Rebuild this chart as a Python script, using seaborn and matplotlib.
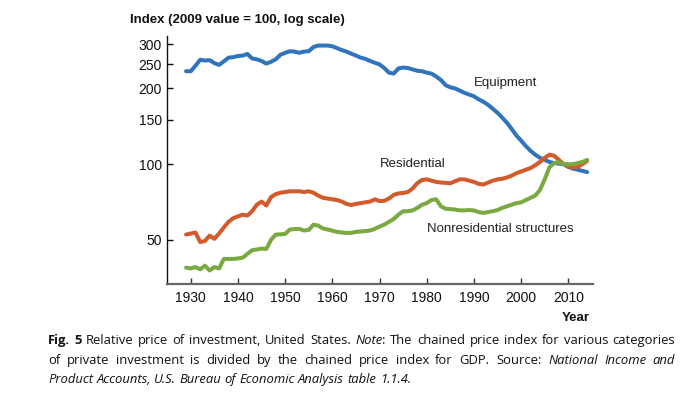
import math
import numpy as np
import pandas as pd
import seaborn as sns
import matplotlib.pyplot as plt
from matplotlib.font_manager import FontProperties, fontManager, get_font
from matplotlib.backends.backend_agg import get_hinting_flag
from matplotlib.ticker import NullLocator, FixedLocator

# values (2009 = 100)
years = list(range(1929, 2015))

equipment = [
    234, 234, 246, 260, 258, 259, 252, 248, 256, 265, 266,            # 1929-1939
    269, 270, 274, 263, 261, 257, 251, 255, 261, 272,                 # 1940s
    277, 281, 280, 277, 280, 281, 292, 296, 296, 296,                 # 1950s
    294, 289, 284, 280, 275, 270, 265, 262, 257, 253,                 # 1960s
    249, 241, 231, 229, 240, 242, 241, 238, 235, 234,                 # 1970s
    231, 229, 223, 216, 206, 202, 200, 196, 192, 189,                 # 1980s
    186, 181, 177, 172, 166, 160, 153, 146, 138, 130,                 # 1990s
    124, 118, 113, 109, 106, 104, 102, 101, 100.5, 100,               # 2000s
    97.5, 96, 95, 94, 93,                                             # 2010-2014
]
residential = [
    52.5, 53, 53.5, 49, 49.5, 52, 50.5, 53, 56, 59, 61,
    62, 63, 62.5, 65, 69, 71, 68.5, 74, 76, 77,
    77.5, 78, 78, 78, 77.5, 78, 77, 75, 73.5, 73,
    72.5, 72, 71, 69.5, 68.8, 69.5, 70, 70.5, 71, 72.5,
    71.3, 71.5, 73, 75.5, 76.5, 76.8, 77.5, 80, 84, 86.5,
    87, 86, 85, 84.5, 84.3, 84, 85.5, 87, 87, 86,
    85, 83.5, 83, 84.5, 86, 87, 87.5, 88.5, 90, 92,
    93.5, 95, 96.5, 99, 102, 106, 109, 108, 104, 100,
    98, 97, 97.5, 100, 103,
]
nonresidential = [
    38.8, 38.5, 39, 38.2, 39.5, 37.8, 39, 38.5, 42, 42, 42,
    42.2, 42.5, 44, 45.5, 45.8, 46.2, 46, 50, 52.5, 52.6,
    52.8, 55, 55.2, 55.3, 54.5, 54.8, 57.5, 57, 55.5, 55,
    54.4, 53.8, 53.5, 53.3, 53.3, 53.8, 54, 54.2, 54.5, 55.3,
    56.5, 57.5, 59, 60.5, 63, 65, 65, 65.5, 67, 69,
    70, 72, 72.5, 68, 66.5, 66.3, 66, 65.5, 65.5, 65.7,
    65.5, 64.5, 64, 64.5, 65, 65.7, 67, 68, 69, 70,
    70.5, 72, 73.5, 75, 79, 87, 97, 101, 102, 100,
    100, 100, 101, 102, 104,
]

series_names = ['Equipment', 'Residential', 'Nonresidential structures']
colors = ['#3174BE', '#D35A2B', '#7AA942']
ytick_values = [50, 100, 150, 200, 250, 300]
xtick_values = list(range(1930, 2011, 10))

df = pd.DataFrame({
    'year': years * 3,
    'value': equipment + residential + nonresidential,
    'series': np.repeat(series_names, len(years)),
})

sns.set_style('white')
plt.rcParams['font.family'] = ['Liberation Sans', 'DejaVu Sans']

W, H = 693, 397
fig = plt.figure(figsize=(W / 100, H / 100), dpi=100)
ax = fig.add_axes([166.7 / W, 1 - 284 / H, (593.3 - 166.7) / W, (284 - 36) / H])

sns.lineplot(data=df, x='year', y='value', hue='series', palette=colors,
             linewidth=2.9, legend=False, ax=ax)
ax.set_yscale('log')
ax.set_xlim(1924.9, 2015.3)
ax.set_ylim(33.4, 323)
ax.yaxis.set_major_locator(FixedLocator(ytick_values))
ax.yaxis.set_minor_locator(NullLocator())
ax.set_yticklabels([str(v) for v in ytick_values])
ax.set_xticks(xtick_values)
ax.set_xticklabels([str(v) for v in xtick_values])
ax.set_xlabel('')
ax.set_ylabel('')

for s in ['top', 'right']:
    ax.spines[s].set_visible(False)
ax.spines['left'].set_color('#111111')
ax.spines['left'].set_linewidth(1.0)
ax.spines['bottom'].set_color('#666666')
ax.spines['bottom'].set_linewidth(1.6)
ax.tick_params(axis='y', which='major', left=True, direction='in', length=4, width=1,
               color='#111111', pad=3.5, labelsize=10, labelcolor='#111111')
ax.tick_params(axis='x', which='major', bottom=True, direction='in', length=4, width=1,
               color='#333333', pad=5, labelsize=10, labelcolor='#111111')

# series labels
ax.text(1990, 210, 'Equipment', fontsize=9.5, va='center', ha='left', color='#222222')
ax.text(1970, 100, 'Residential', fontsize=9.5, va='center', ha='left', color='#222222')
ax.text(1980, 55.2, 'Nonresidential structures', fontsize=9.5, va='center',
        ha='left', color='#222222')

fig.text(130 / W, 1 - 20 / H, 'Index (2009 value = 100, log scale)', fontsize=9.5,
         fontweight='bold', va='center', ha='left', color='#111111')
fig.text(590 / W, 1 - 318 / H, 'Year', fontsize=9.5, fontweight='bold',
         va='center', ha='right', color='#111111')

# caption, justified word by word
cap_font = ['Open Sans', 'Liberation Sans', 'DejaVu Sans']
caption = [
    [('Fig. 5', 'bold'), ('  Relative price of investment, United States. ', 'normal'),
     ('Note', 'italic'), (': The chained price index for various categories', 'normal')],
    [('of private investment is divided by the chained price index for GDP. Source: ', 'normal'),
     ('National Income and', 'italic')],
    [('Product Accounts, U.S. Bureau of Economic Analysis table 1.1.4.', 'italic')],
]
baselines = [344, 364, 383]
x0, x1 = 48, 675


def split_words(segments):
    words, cur = [], []
    for text, style in segments:
        buf = ''
        for ch in text:
            if ch == ' ':
                if buf:
                    cur.append((buf, style))
                    buf = ''
                if cur:
                    words.append(cur)
                    cur = []
            else:
                buf += ch
        if buf:
            cur.append((buf, style))
    if cur:
        words.append(cur)
    return words


renderer = fig.canvas.get_renderer()


def props(style, size):
    return FontProperties(family=cap_font, size=size,
                          weight='bold' if style == 'bold' else 'normal',
                          style='italic' if style == 'italic' else 'normal')


def run_width(text, style, size):
    w, _, _ = renderer.get_text_width_height_descent(text, props(style, size), ismath=False)
    return w


def baseline_row(text, style, size, target):
    # Agg rounds each text image to whole pixels; pick the y that puts the
    # baseline of this word exactly on the target pixel row
    try:
        font = get_font(fontManager._find_fonts_by_props(props(style, size)))
        font.clear()
        font.set_size(size, 100)
        font.set_text(text, 0, flags=get_hinting_flag())
        d = font.get_descent() / 64.0
        h = font.get_width_height()[1] / 64.0
        a = h - d
        return target - math.floor(a) + math.floor(h) - d
    except Exception:
        return target


def word_widths(words, size):
    return [sum(run_width(r, s, size) for r, s in wd) for wd in words]


all_words = [split_words(seg) for seg in caption]
cap_size = 9.5
space_w = run_width('a a', 'normal', cap_size) - run_width('aa', 'normal', cap_size)
nat = sum(word_widths(all_words[0], cap_size)) + space_w * (len(all_words[0]) - 1)
cap_size = cap_size * (x1 - x0) * 0.99 / nat
space_w = run_width('a a', 'normal', cap_size) - run_width('aa', 'normal', cap_size)

for i, words in enumerate(all_words):
    widths = word_widths(words, cap_size)
    if i < len(all_words) - 1:
        gap = ((x1 - x0) - sum(widths)) / (len(words) - 1)
    else:
        gap = space_w
    x = x0
    for wd, ww in zip(words, widths):
        xr = x
        for r, s in wd:
            yb = baseline_row(r, s, cap_size, baselines[i])
            fig.text(xr / W, 1 - yb / H, r, fontproperties=props(s, cap_size),
                     va='baseline', ha='left', color='#111111')
            xr += run_width(r, s, cap_size)
        x += ww + gap

fig.savefig('out.png', dpi=100)
